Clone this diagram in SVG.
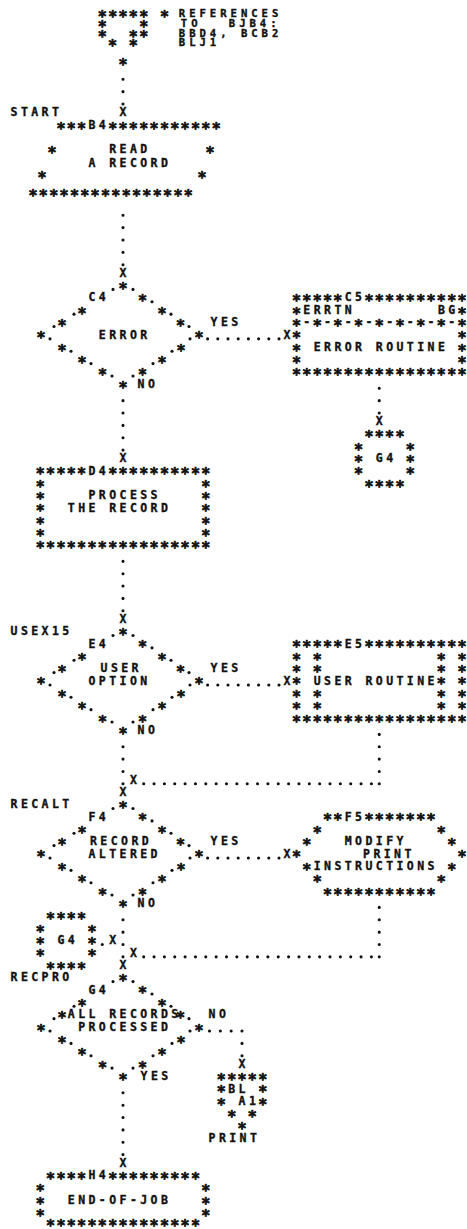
<svg xmlns="http://www.w3.org/2000/svg" width="467" height="1229" viewBox="0 0 467 1229" xml:space="preserve">
<style>
  .t { font-family: "DejaVu Sans Mono", "Liberation Mono", monospace; font-weight: bold; font-size: 11.5px; letter-spacing: 3.43px; fill: #111; stroke: #111; stroke-width: 0.35px; white-space: pre; }
  .tr { font-family: "DejaVu Sans Mono", "Liberation Mono", monospace; font-weight: bold; font-size: 10.6px; letter-spacing: 3.97px; fill: #111; stroke: #111; stroke-width: 0.35px; white-space: pre; }
  .s { font-family: "DejaVu Sans Mono", "Liberation Mono", monospace; font-weight: bold; font-size: 15px; letter-spacing: 1.32px; fill: #111; stroke: #111; stroke-width: 0.75px; stroke-linejoin: round; white-space: pre; transform: translate(-0.6px, 1.2px); }
  .dv { fill: none; stroke: #111; stroke-width: 3.1; stroke-linecap: round; stroke-dasharray: 0 12.36; }
  .dh { fill: none; stroke: #111; stroke-width: 3.1; stroke-linecap: round; stroke-dasharray: 0 10.35; }
  .dr { fill: none; stroke: #111; stroke-width: 3.1; stroke-linecap: round; stroke-dasharray: 0 10.2; }
  .dn { fill: none; stroke: #111; stroke-width: 3.1; stroke-linecap: round; stroke-dasharray: 0 10.83; }
  .pt { fill: #111; }
</style>
<defs>
  <!-- decision outline: asterisks with a dot beside each, apex at (0,0) -->
  <g id="dia">
    <text class="s" x="-3.9" y="7.8">*</text>
    <text class="s" x="15.6" y="20.16">*</text>
    <text class="s" x="-44.9 35.1" y="32.52">**</text>
    <text class="s" x="-64.9 53.6" y="44.88">**</text>
    <text class="s" x="-85.9 72.1" y="57.24">**</text>
    <text class="s" x="-64.9 54.1" y="69.6">**</text>
    <text class="s" x="-44.9 35.1" y="81.96">**</text>
    <text class="s" x="-24.4 15.6" y="94.32">**</text>
    <text class="s" x="-3.9" y="106.68">*</text>
    <g class="pt">
      <circle cx="-10" cy="4.5" r="1.55"/><circle cx="10" cy="4.5" r="1.55"/>
      <circle cx="29" cy="16.86" r="1.55"/>
      <circle cx="-49" cy="29.22" r="1.55"/><circle cx="48" cy="29.22" r="1.55"/>
      <circle cx="-69" cy="41.58" r="1.55"/><circle cx="66" cy="41.58" r="1.55"/>
      <circle cx="-73" cy="53.94" r="1.55"/><circle cx="67" cy="53.94" r="1.55"/>
      <circle cx="-52" cy="66.3" r="1.55"/><circle cx="49" cy="66.3" r="1.55"/>
      <circle cx="-32" cy="78.66" r="1.55"/><circle cx="30" cy="78.66" r="1.55"/>
      <circle cx="-11" cy="91.02" r="1.55"/><circle cx="10" cy="91.02" r="1.55"/>
    </g>
  </g>
</defs>
<rect width="467" height="1229" fill="#fff"/>

<!-- connectors -->
<g id="connectors">
  <path class="dv" d="M123 79.3 V104.03"/>
  <path class="dv" d="M123 215.26 V264.71"/>
  <path class="dv" d="M123 400.66 V450.11"/>
  <path class="dv" d="M123 561.34 V610.79"/>
  <path class="dv" d="M123 746.74 V783.83"/>
  <path class="dv" d="M123 919.78 V956.87"/>
  <path class="dv" d="M123 1092.82 V1154.63"/>
  <path class="dv" d="M379.25 388.3 V413.03"/>
  <path class="dv" d="M379.25 734.38 V783.83"/>
  <path class="dv" d="M379.25 907.42 V956.87"/>
  <path class="dv" d="M242 1043.38 V1055.75"/>
  <path class="dn" d="M209.5 1031.02 H242.01"/>
  <path class="dh" d="M143.7 783.82 H379.26"/>
  <path class="dh" d="M143.7 956.86 H379.26"/>
  <path class="dr" d="M207.6 338.86 H279.01"/>
  <path class="dr" d="M207.6 684.94 H279.01"/>
  <path class="dr" d="M207.6 857.98 H279.01"/>
  <circle class="pt" cx="102.3" cy="944.5" r="1.55"/>
  <text class="t" x="119.54" y="116.08">X</text>
  <text class="t" x="119.54" y="276.76">X</text>
  <text class="t" x="283.44" y="338.56">X</text>
  <text class="t" x="375.79" y="425.08">X</text>
  <text class="t" x="119.54" y="462.16">X</text>
  <text class="t" x="119.54" y="622.84">X</text>
  <text class="t" x="283.44" y="684.64">X</text>
  <text class="t" x="129.89" y="783.52">X</text>
  <text class="t" x="119.54" y="795.88">X</text>
  <text class="t" x="283.44" y="857.68">X</text>
  <text class="t" x="129.89" y="956.56">X</text>
  <text class="t" x="109.19" y="944.2">X</text>
  <text class="t" x="119.54" y="968.92">X</text>
  <text class="t" x="238.54" y="1067.8">X</text>
  <text class="t" x="119.54" y="1166.68">X</text>
  <text class="t" x="137.54" y="388">NO</text>
  <text class="t" x="210.54" y="326.2">YES</text>
  <text class="t" x="137.54" y="734.08">NO</text>
  <text class="t" x="210.54" y="672.28">YES</text>
  <text class="t" x="137.54" y="907.12">NO</text>
  <text class="t" x="210.54" y="845.32">YES</text>
  <text class="t" x="208.54" y="1018.36">NO</text>
  <text class="t" x="140.54" y="1080.16">YES</text>
</g>

<!-- off-page entry connector with its reference list -->
<g id="entry-ref">
  <text class="s" x="98.4" y="20.8">***** *</text>
  <text class="s" x="98.4" y="31.3">*   *</text>
  <text class="s" x="98.4" y="40.8">*  **</text>
  <text class="s" x="108.7" y="49.8">* *</text>
  <text class="s" x="119.1" y="68.8">*</text>
  <text class="tr" x="178.8" y="16.9">REFERENCES</text>
  <text class="tr" x="180.8" y="27.4">TO</text>
  <text class="tr" x="228.8" y="27.4">BJB4:</text>
  <text class="tr" x="178.8" y="36.9">BBD4, BCB2</text>
  <text class="tr" x="178.8" y="45.9">BLJ1</text>
</g>

<!-- B4: input/output -->
<g id="node-B4">
  <text class="t" x="10.54" y="116.08">START</text>
  <text class="s" x="56.99" y="133.04">***</text>
  <text class="t" x="88.49" y="129.44">B4</text>
  <text class="s" x="108.74" y="133.04">***********</text>
  <text class="s" x="48.1 206.1" y="156.76">**</text>
  <text class="t" x="109.19" y="153.16">READ</text>
  <text class="t" x="88.49" y="166.52">A RECORD</text>
  <text class="s" x="38.1 198.1" y="181.48">**</text>
  <text class="s" x="29.1" y="199.8">****************</text>
</g>

<!-- C4: decision -->
<g id="node-C4">
  <use href="#dia" transform="translate(123 284.92)"/>
  <text class="t" x="88.49" y="301.48">C4</text>
  <text class="t" x="98.84" y="338.56">ERROR</text>
</g>

<!-- C5: error routine -->
<g id="node-C5" transform="translate(-2.5 0)">
  <text class="s" x="295.04" y="305.08">*****</text>
  <text class="t" x="347.24" y="301.48">C5</text>
  <text class="s" x="367.49" y="305.08">**********</text>
  <text class="s" x="295.04" y="317.44">*               *</text>
  <text class="t" x="305.84" y="313.84">ERRTN</text>
  <text class="t" x="440.39" y="313.84">BG</text>
  <text class="s" x="295.04" y="329.8">* * * * * * * * *</text>
  <text class="t" x="305.84" y="326.2">- - - - - - - -</text>
  <text class="s" x="295.04" y="342.16">*               *</text>
  <text class="s" x="295.04" y="354.52">*               *</text>
  <text class="t" x="316.19" y="350.92">ERROR ROUTINE</text>
  <text class="s" x="295.04" y="366.88">*               *</text>
  <text class="s" x="295.04" y="379.24">*****************</text>
</g>

<!-- G4: on-page connector after the error routine -->
<g id="node-G4-conn-1" transform="translate(-2.5 0)">
  <text class="s" x="367.49" y="441.04">****</text>
  <text class="s" x="357.14" y="453.4">*    *</text>
  <text class="s" x="357.14" y="465.76">*    *</text>
  <text class="t" x="378.29" y="462.16">G4</text>
  <text class="s" x="357.14" y="478.12">*    *</text>
  <text class="s" x="367.49" y="490.48">****</text>
</g>

<!-- D4: process -->
<g id="node-D4">
  <text class="s" x="36.29" y="478.12">*****</text>
  <text class="t" x="88.49" y="474.52">D4</text>
  <text class="s" x="108.74" y="478.12">**********</text>
  <text class="s" x="36.29" y="490.48">*               *</text>
  <text class="s" x="36.29" y="502.84">*               *</text>
  <text class="t" x="88.49" y="499.24">PROCESS</text>
  <text class="s" x="36.29" y="515.2">*               *</text>
  <text class="t" x="67.79" y="511.6">THE RECORD</text>
  <text class="s" x="36.29" y="527.56">*               *</text>
  <text class="s" x="36.29" y="539.92">*               *</text>
  <text class="s" x="36.29" y="552.28">*****************</text>
</g>

<!-- E4: decision -->
<g id="node-E4">
  <text class="t" x="10.54" y="635.2">USEX15</text>
  <use href="#dia" transform="translate(123 631)"/>
  <text class="t" x="88.49" y="647.56">E4</text>
  <text class="t" x="100.54" y="672.28">USER</text>
  <text class="t" x="88.49" y="684.64">OPTION</text>
</g>

<!-- E5: predefined process -->
<g id="node-E5" transform="translate(-2.5 0)">
  <text class="s" x="295.04" y="651.16">*****</text>
  <text class="t" x="347.24" y="647.56">E5</text>
  <text class="s" x="367.49" y="651.16">**********</text>
  <text class="s" x="295.04" y="663.52">* *           * *</text>
  <text class="s" x="295.04" y="675.88">* *           * *</text>
  <text class="s" x="295.04" y="688.24">*             * *</text>
  <text class="t" x="316.19" y="684.64">USER ROUTINE</text>
  <text class="s" x="295.04" y="700.6">* *           * *</text>
  <text class="s" x="295.04" y="712.96">* *           * *</text>
  <text class="s" x="295.04" y="725.32">*****************</text>
</g>

<!-- F4: decision -->
<g id="node-F4">
  <text class="t" x="10.54" y="808.24">RECALT</text>
  <use href="#dia" transform="translate(123 804.04)"/>
  <text class="t" x="88.49" y="820.6">F4</text>
  <text class="t" x="90" y="845.32">RECORD</text>
  <text class="t" x="88.49" y="857.68">ALTERED</text>
</g>

<!-- F5: preparation -->
<g id="node-F5" transform="translate(-2.5 0)">
  <text class="s" x="326.09" y="824.2">**</text>
  <text class="t" x="347.24" y="820.6">F5</text>
  <text class="s" x="367.49" y="824.2">*******</text>
  <text class="s" x="315.74" y="836.56">*           *</text>
  <text class="s" x="305.39" y="848.92">*             *</text>
  <text class="t" x="347.24" y="845.32">MODIFY</text>
  <text class="s" x="295.04" y="861.28">*               *</text>
  <text class="t" x="365.54" y="857.68">PRINT</text>
  <text class="s" x="305.39" y="873.64">*             *</text>
  <text class="t" x="316.19" y="870.04">INSTRUCTIONS</text>
  <text class="s" x="315.74" y="886">*           *</text>
  <text class="s" x="326.09" y="898.36">***********</text>
</g>

<!-- G4: on-page connector joining the main line -->
<g id="node-G4-conn-2">
  <text class="s" x="46.64" y="923.08">****</text>
  <text class="s" x="36.29" y="935.44">*    *</text>
  <text class="s" x="36.29" y="947.8">*    *</text>
  <text class="t" x="57.44" y="944.2">G4</text>
  <text class="s" x="36.29" y="960.16">*    *</text>
  <text class="s" x="46.64" y="972.52">****</text>
</g>

<!-- G4: decision -->
<g id="node-G4">
  <text class="t" x="10.54" y="981.28">RECPRO</text>
  <use href="#dia" transform="translate(123 977.08)"/>
  <text class="t" x="88.49" y="993.64">G4</text>
  <text class="t" x="67.79" y="1018.36">ALL RECORDS</text>
  <text class="t" x="78.14" y="1030.72">PROCESSED</text>
</g>

<!-- BL A1: off-page exit connector -->
<g id="node-BL-A1">
  <text class="s" x="217.39" y="1083.76">*****</text>
  <text class="s" x="217.39" y="1096.12">*   *</text>
  <text class="t" x="228.19" y="1092.52">BL</text>
  <text class="s" x="217.39" y="1108.48">*   *</text>
  <text class="t" x="238.54" y="1104.88">A1</text>
  <text class="s" x="227.74" y="1120.84">* *</text>
  <text class="s" x="238.09" y="1133.2">*</text>
  <text class="t" x="208.54" y="1141.96">PRINT</text>
</g>

<!-- H4: terminal -->
<g id="node-H4">
  <text class="s" x="46.64" y="1182.64">****</text>
  <text class="t" x="88.49" y="1179.04">H4</text>
  <text class="s" x="108.74" y="1182.64">*********</text>
  <text class="s" x="36.29" y="1195">*               *</text>
  <text class="s" x="36.29" y="1207.36">*               *</text>
  <text class="t" x="67.79" y="1203.76">END-OF-JOB</text>
  <text class="s" x="36.29" y="1219.4">*               *</text>
  <text class="s" x="46.64" y="1229.6">***************</text>
</g>
</svg>
